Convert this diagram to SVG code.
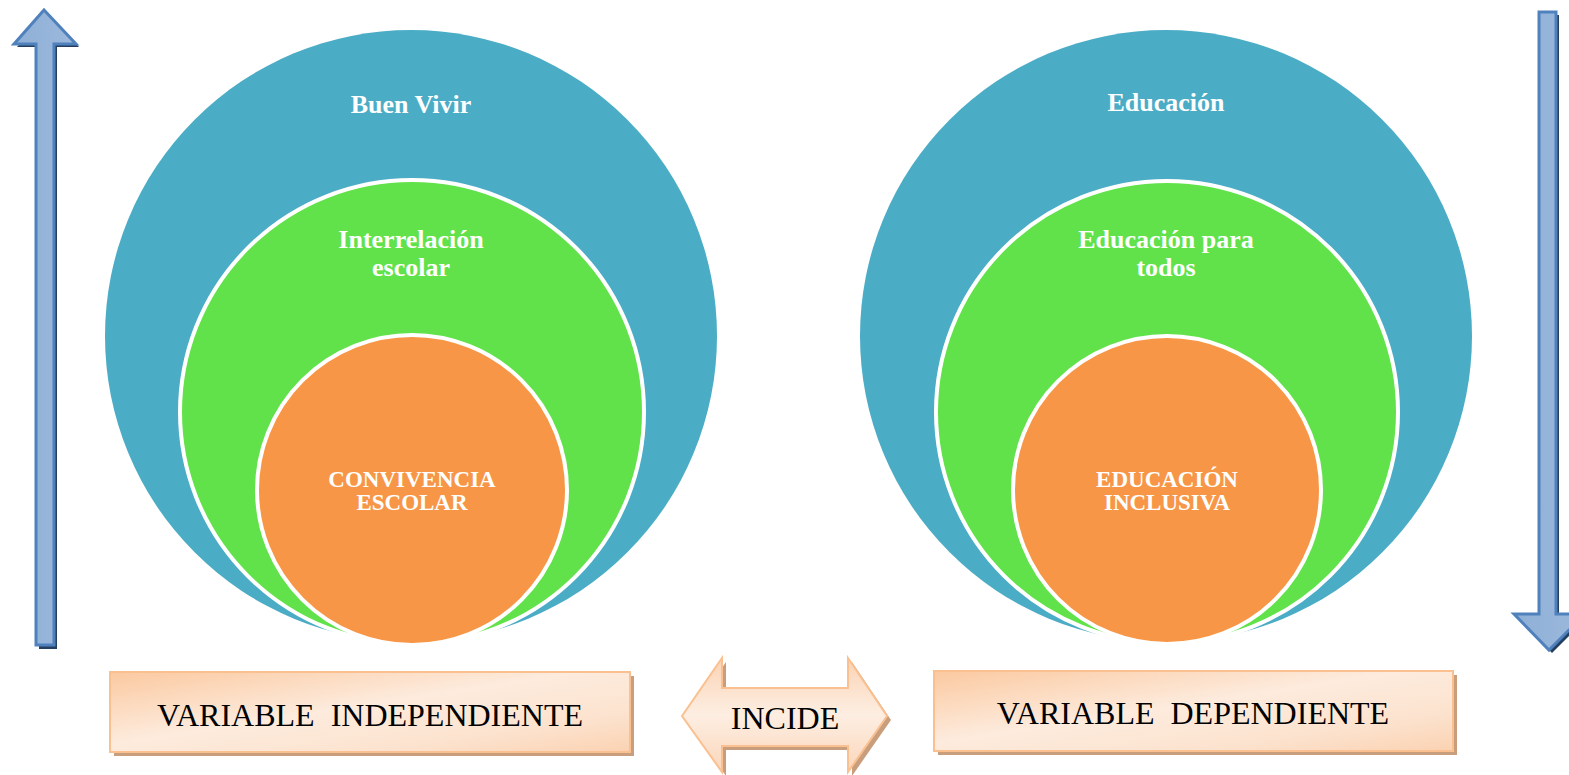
<svg xmlns="http://www.w3.org/2000/svg" width="1569" height="775" viewBox="0 0 1569 775">
<defs>
<linearGradient id="peach" x1="0" y1="0" x2="1" y2="1">
<stop offset="0" stop-color="#FBC9A0"/>
<stop offset="0.45" stop-color="#FDEBDD"/>
<stop offset="0.75" stop-color="#FCE3CF"/>
<stop offset="1" stop-color="#FBD2B2"/>
</linearGradient>
<linearGradient id="peachV" x1="0" y1="0" x2="0" y2="1">
<stop offset="0" stop-color="#FBD3B4"/>
<stop offset="0.5" stop-color="#FDEEE2"/>
<stop offset="1" stop-color="#FBD6BA"/>
</linearGradient>
<linearGradient id="blueArrow" x1="0" y1="0" x2="1" y2="0">
<stop offset="0" stop-color="#8EAFD6"/>
<stop offset="1" stop-color="#9DB9DC"/>
</linearGradient>
</defs>
<style>
.blue{fill:#4BACC6}
.green{fill:#62E24A;stroke:#FFFFFF;stroke-width:4}
.orange{fill:#F79646;stroke:#FFFFFF;stroke-width:4}
.lbl{font-family:"Liberation Serif","Times New Roman",serif;font-weight:bold;fill:#FFFFFF;text-anchor:middle}
.big{font-size:26px}
.small{font-size:23px}
.box{fill:url(#peach);stroke:#FAC090;stroke-width:2}
.shadow{fill:#C99E7C}
.boxtxt{font-family:"Liberation Serif","Times New Roman",serif;font-size:32px;fill:#000000;text-anchor:middle}
.arr{fill:url(#blueArrow);stroke:#4F81BD;stroke-width:3;stroke-linejoin:miter}
.arrsh{fill:#243F60}
</style>
<rect width="1569" height="775" fill="#FFFFFF"/>

<g id="arrow-up">
<polygon class="arrsh" points="47,13 79,47 57,47 57,649 39,649 39,47 17,47"/>
<polygon class="arr" points="44,10 76,44 54,44 54,645 36,645 36,44 14,44"/>
</g>

<g id="arrow-down">
<polygon class="arrsh" points="1542,15 1559,15 1559,617 1588,617 1552,653 1517,617 1542,617"/>
<polygon class="arr" points="1539,12 1556,12 1556,614 1585,614 1549,650 1514,614 1539,614"/>
</g>

<g id="buen-vivir">
<circle class="blue" cx="411" cy="336" r="306"/>
<text class="lbl big" x="411" y="113">Buen Vivir</text>
</g>
<g id="interrelacion">
<circle class="green" cx="412" cy="412" r="232"/>
<text class="lbl big" x="411" y="248">Interrelación</text>
<text class="lbl big" x="411" y="276">escolar</text>
</g>
<g id="convivencia">
<circle class="orange" cx="412" cy="490" r="155"/>
<text class="lbl small" x="412" y="487">CONVIVENCIA</text>
<text class="lbl small" x="412" y="510">ESCOLAR</text>
</g>

<g id="educacion">
<circle class="blue" cx="1166" cy="336" r="306"/>
<text class="lbl big" x="1166" y="111">Educación</text>
</g>
<g id="educacion-todos">
<circle class="green" cx="1167" cy="412" r="231"/>
<text class="lbl big" x="1166" y="248">Educación para</text>
<text class="lbl big" x="1166" y="276">todos</text>
</g>
<g id="educacion-inclusiva">
<circle class="orange" cx="1167" cy="490" r="154"/>
<text class="lbl small" x="1167" y="487">EDUCACIÓN</text>
<text class="lbl small" x="1167" y="510">INCLUSIVA</text>
</g>

<g id="var-independiente">
<rect class="shadow" x="114" y="676" width="520" height="80"/>
<rect class="box" x="110" y="672" width="520" height="80"/>
<text class="boxtxt" x="370" y="726" xml:space="preserve">VARIABLE  INDEPENDIENTE</text>
</g>

<g id="incide">
<polygon class="shadow" points="686,720 726,662 726,692 852,692 852,662 891,720 852,776 852,750 726,750 726,776"/>
<polygon fill="url(#peachV)" stroke="#FAC090" stroke-width="2" points="682,716 722,658 722,688 848,688 848,658 887,716 848,772 848,746 722,746 722,772"/>
<text class="boxtxt" x="785" y="729">INCIDE</text>
</g>

<g id="var-dependiente">
<rect class="shadow" x="938" y="675" width="519" height="80"/>
<rect class="box" x="934" y="671" width="519" height="80"/>
<text class="boxtxt" x="1193" y="724" xml:space="preserve">VARIABLE  DEPENDIENTE</text>
</g>
</svg>
